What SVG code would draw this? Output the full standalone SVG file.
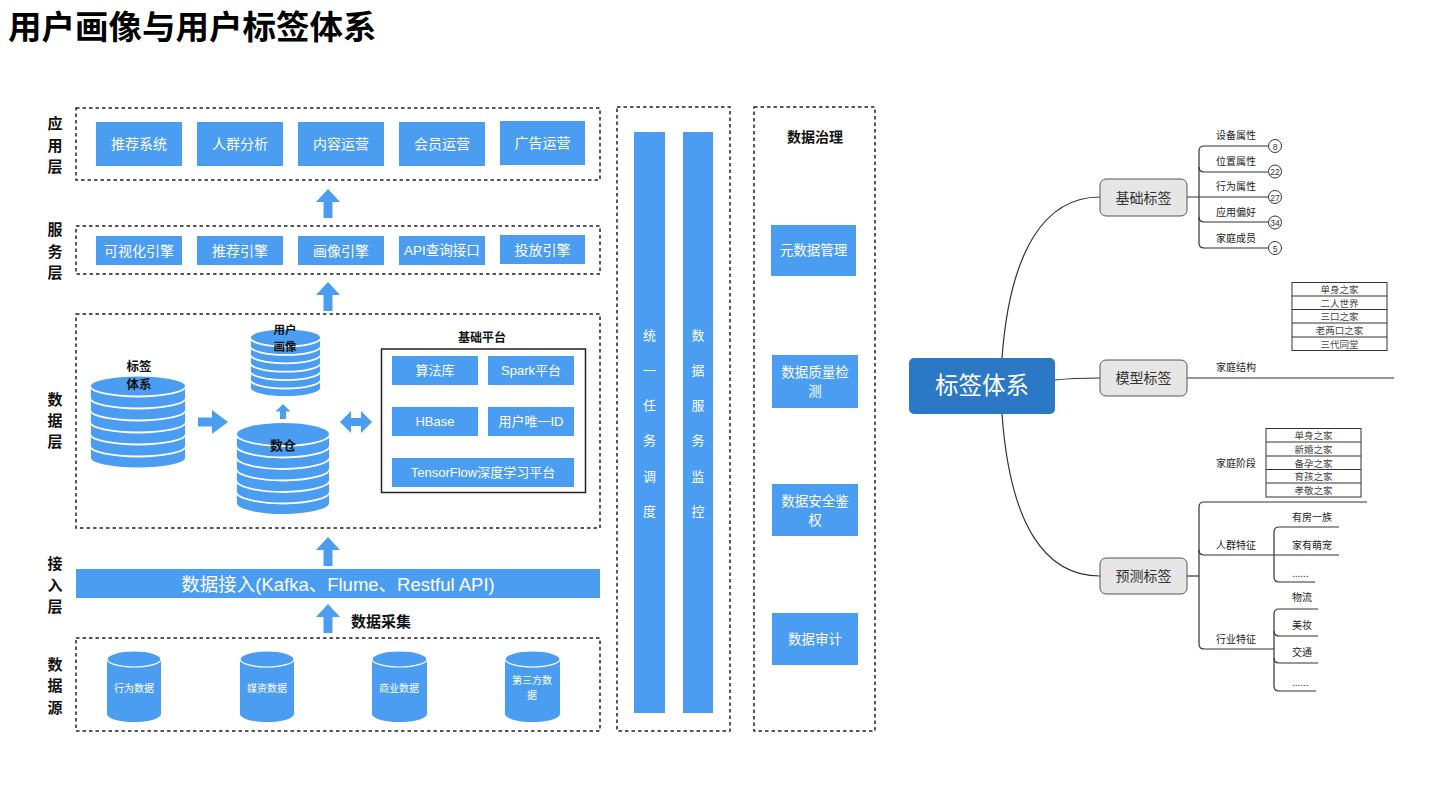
<svg xmlns="http://www.w3.org/2000/svg" width="1440" height="810" viewBox="0 0 1440 810">
<style>
text{font-family:"Liberation Sans","Noto Sans CJK SC",sans-serif;dominant-baseline:central}
.blue{fill:#4A9DF0}
.dash{fill:none;stroke:#222;stroke-width:1.5;stroke-dasharray:3.5 3}
.wt{fill:#fff;font-size:14px;text-anchor:middle}
.lay{fill:#111;font-size:15px;font-weight:bold;text-anchor:middle}
.bold{fill:#111;font-weight:bold;text-anchor:middle}
.disk{fill:#4A9DF0;stroke:#fff;stroke-width:1.8}
.mm{fill:none;stroke:#333;stroke-width:1.2}
.node{fill:#E6E6E6;stroke:#555;stroke-width:1}
.nt{fill:#333;font-size:14px;text-anchor:middle}
.lb{fill:#222;font-size:10px}
.tb{fill:#444;font-size:9.5px;text-anchor:middle}
.cnum{fill:#333;font-size:8.5px;text-anchor:middle}
</style>
<defs>
<path id="up" d="M0,0 L12,13 L4.5,13 L4.5,29 L-4.5,29 L-4.5,13 L-12,13 Z"/>
</defs>

<text x="8" y="27" style="font-size:33.5px;font-weight:bold;fill:#000">用户画像与用户标签体系</text>

<g id="layer-labels">
<text class="lay" x="55" y="123">应</text><text class="lay" x="55" y="145">用</text><text class="lay" x="55" y="166">层</text>
<text class="lay" x="55" y="229">服</text><text class="lay" x="55" y="251">务</text><text class="lay" x="55" y="272">层</text>
<text class="lay" x="55" y="399">数</text><text class="lay" x="55" y="420">据</text><text class="lay" x="55" y="441">层</text>
<text class="lay" x="55" y="563">接</text><text class="lay" x="55" y="585">入</text><text class="lay" x="55" y="606">层</text>
<text class="lay" x="55" y="664">数</text><text class="lay" x="55" y="685">据</text><text class="lay" x="55" y="707">源</text>
</g>

<g id="app-layer">
<rect class="dash" x="76" y="108" width="524" height="72"/>
<rect class="blue" x="96" y="122" width="86" height="44"/><text class="wt" x="139" y="144">推荐系统</text>
<rect class="blue" x="197" y="122" width="86" height="44"/><text class="wt" x="240" y="144">人群分析</text>
<rect class="blue" x="298" y="122" width="86" height="44"/><text class="wt" x="341" y="144">内容运营</text>
<rect class="blue" x="399" y="122" width="86" height="44"/><text class="wt" x="442" y="144">会员运营</text>
<rect class="blue" x="500" y="121" width="85" height="44"/><text class="wt" x="542.5" y="143">广告运营</text>
</g>

<g id="service-layer">
<rect class="dash" x="76" y="226" width="524" height="48"/>
<rect class="blue" x="96" y="236" width="86" height="29"/><text class="wt" x="139" y="250.5">可视化引擎</text>
<rect class="blue" x="197" y="236" width="86" height="29"/><text class="wt" x="240" y="250.5">推荐引擎</text>
<rect class="blue" x="298" y="236" width="86" height="29"/><text class="wt" x="341" y="250.5">画像引擎</text>
<rect class="blue" x="399" y="236" width="86" height="29"/><text class="wt" x="442" y="250.5" style="font-size:13.5px">API查询接口</text>
<rect class="blue" x="500" y="235" width="85" height="29"/><text class="wt" x="542.5" y="249.5">投放引擎</text>
</g>

<g id="data-layer">
<rect class="dash" x="76" y="314" width="524" height="214"/>
<g id="tag-stack">
<path class="disk" d="M90,446 A48,10.5 0 0 1 186,446 V458 A48,10.5 0 0 1 90,458 Z"/>
<path class="disk" d="M90,434 A48,10.5 0 0 1 186,434 V446 A48,10.5 0 0 1 90,446 Z"/>
<path class="disk" d="M90,422 A48,10.5 0 0 1 186,422 V434 A48,10.5 0 0 1 90,434 Z"/>
<path class="disk" d="M90,410 A48,10.5 0 0 1 186,410 V422 A48,10.5 0 0 1 90,422 Z"/>
<path class="disk" d="M90,398 A48,10.5 0 0 1 186,398 V410 A48,10.5 0 0 1 90,410 Z"/>
<path class="disk" d="M90,386 A48,10.5 0 0 1 186,386 V398 A48,10.5 0 0 1 90,398 Z"/>
<ellipse class="disk" cx="138" cy="386" rx="48" ry="10.5"/>
<text class="bold" x="139" y="367" style="font-size:12.5px">标签</text>
<text class="bold" x="139" y="385" style="font-size:12.5px">体系</text>
</g>
<g id="profile-stack">
<path class="disk" d="M250,379.5 A35.5,9 0 0 1 321,379.5 V387.9 A35.5,9 0 0 1 250,387.9 Z"/>
<path class="disk" d="M250,371.1 A35.5,9 0 0 1 321,371.1 V379.5 A35.5,9 0 0 1 250,379.5 Z"/>
<path class="disk" d="M250,362.7 A35.5,9 0 0 1 321,362.7 V371.1 A35.5,9 0 0 1 250,371.1 Z"/>
<path class="disk" d="M250,354.3 A35.5,9 0 0 1 321,354.3 V362.7 A35.5,9 0 0 1 250,362.7 Z"/>
<path class="disk" d="M250,345.9 A35.5,9 0 0 1 321,345.9 V354.3 A35.5,9 0 0 1 250,354.3 Z"/>
<path class="disk" d="M250,337.5 A35.5,9 0 0 1 321,337.5 V345.9 A35.5,9 0 0 1 250,345.9 Z"/>
<ellipse class="disk" cx="285.5" cy="337.5" rx="35.5" ry="9"/>
<text class="bold" x="285" y="330" style="font-size:11.5px">用户</text>
<text class="bold" x="285" y="347" style="font-size:11.5px">画像</text>
</g>
<g id="dw-stack">
<path class="disk" d="M236,491.5 A47,12 0 0 1 330,491.5 V503 A47,12 0 0 1 236,503 Z"/>
<path class="disk" d="M236,480 A47,12 0 0 1 330,480 V491.5 A47,12 0 0 1 236,491.5 Z"/>
<path class="disk" d="M236,468.5 A47,12 0 0 1 330,468.5 V480 A47,12 0 0 1 236,480 Z"/>
<path class="disk" d="M236,457 A47,12 0 0 1 330,457 V468.5 A47,12 0 0 1 236,468.5 Z"/>
<path class="disk" d="M236,445.5 A47,12 0 0 1 330,445.5 V457 A47,12 0 0 1 236,457 Z"/>
<path class="disk" d="M236,434 A47,12 0 0 1 330,434 V445.5 A47,12 0 0 1 236,445.5 Z"/>
<ellipse class="disk" cx="283" cy="434" rx="47" ry="12"/>
<text class="bold" x="283" y="445" style="font-size:13px">数仓</text>
</g>
<g id="base-platform">
<text class="bold" x="482" y="338" style="font-size:12px">基础平台</text>
<rect x="381.5" y="349" width="204" height="143.5" fill="none" stroke="#222" stroke-width="1.5"/>
<rect class="blue" x="392" y="356" width="86" height="29"/><text class="wt" x="435" y="370.5" style="font-size:13px">算法库</text>
<rect class="blue" x="488" y="356" width="86" height="29"/><text class="wt" x="531" y="370.5" style="font-size:13px">Spark平台</text>
<rect class="blue" x="392" y="407" width="86" height="29"/><text class="wt" x="435" y="421.5" style="font-size:13px">HBase</text>
<rect class="blue" x="488" y="407" width="86" height="29"/><text class="wt" x="531" y="421.5" style="font-size:13px">用户唯一ID</text>
<rect class="blue" x="392" y="458" width="182" height="29"/><text class="wt" x="483" y="472.5" style="font-size:13px">TensorFlow深度学习平台</text>
</g>
</g>

<g id="access-layer">
<rect class="blue" x="76" y="569" width="524" height="29"/>
<text class="wt" x="338" y="584" style="font-size:18.5px">数据接入(Kafka、Flume、Restful API)</text>
<text class="bold" x="381" y="621" style="font-size:15px">数据采集</text>
</g>

<g id="source-layer">
<rect class="dash" x="76" y="638" width="524" height="93"/>
<g id="src1"><path class="blue" d="M107,659 A27,8 0 0 1 161,659 V714 A27,8 0 0 1 107,714 Z"/><ellipse cx="134" cy="659" rx="27" ry="8" fill="#4A9DF0" stroke="#fff" stroke-width="1.2"/><text class="wt" x="134" y="688" style="font-size:10px">行为数据</text></g>
<g id="src2"><path class="blue" d="M240,659 A27,8 0 0 1 294,659 V714 A27,8 0 0 1 240,714 Z"/><ellipse cx="267" cy="659" rx="27" ry="8" fill="#4A9DF0" stroke="#fff" stroke-width="1.2"/><text class="wt" x="267" y="688" style="font-size:10px">媒资数据</text></g>
<g id="src3"><path class="blue" d="M372,659 A27.5,8 0 0 1 427,659 V714 A27.5,8 0 0 1 372,714 Z"/><ellipse cx="399.5" cy="659" rx="27.5" ry="8" fill="#4A9DF0" stroke="#fff" stroke-width="1.2"/><text class="wt" x="399" y="688" style="font-size:10px">商业数据</text></g>
<g id="src4"><path class="blue" d="M505,659 A27.5,8 0 0 1 560,659 V714 A27.5,8 0 0 1 505,714 Z"/><ellipse cx="532.5" cy="659" rx="27.5" ry="8" fill="#4A9DF0" stroke="#fff" stroke-width="1.2"/><text class="wt" x="532" y="680" style="font-size:10px">第三方数</text><text class="wt" x="532" y="695" style="font-size:10px">据</text></g>
</g>

<g id="connectors">
<use href="#up" x="328" y="189" fill="#4A9DF0"/>
<use href="#up" x="328" y="282" fill="#4A9DF0"/>
<use href="#up" x="328" y="537" fill="#4A9DF0"/>
<use href="#up" x="328" y="604" fill="#4A9DF0"/>
<path class="blue" d="M198,417.5 H212 V410 L228,422 L212,434 V426.5 H198 Z"/>
<path class="blue" d="M283,404 L290.5,411.5 L286,411.5 L286,419 L280,419 L280,411.5 L275.5,411.5 Z"/>
<path class="blue" d="M340,422 L351,411 V418 H361 V411 L372,422 L361,433 V426 H351 V433 Z"/>
</g>

<g id="ops-column">
<rect class="dash" x="617" y="107" width="113" height="624"/>
<rect class="blue" x="634" y="132" width="31" height="581"/>
<rect class="blue" x="683" y="132" width="30" height="581"/>
<text class="wt" x="649.5" y="335" style="font-size:13px">统</text><text class="wt" x="649.5" y="370" style="font-size:13px">一</text><text class="wt" x="649.5" y="405" style="font-size:13px">任</text><text class="wt" x="649.5" y="440" style="font-size:13px">务</text><text class="wt" x="649.5" y="476" style="font-size:13px">调</text><text class="wt" x="649.5" y="511" style="font-size:13px">度</text>
<text class="wt" x="698" y="335" style="font-size:13px">数</text><text class="wt" x="698" y="370" style="font-size:13px">据</text><text class="wt" x="698" y="405" style="font-size:13px">服</text><text class="wt" x="698" y="440" style="font-size:13px">务</text><text class="wt" x="698" y="476" style="font-size:13px">监</text><text class="wt" x="698" y="511" style="font-size:13px">控</text>
</g>

<g id="governance">
<rect class="dash" x="754" y="107" width="121" height="624"/>
<text class="bold" x="815" y="137" style="font-size:14px">数据治理</text>
<rect class="blue" x="771" y="225" width="85" height="51"/><text class="wt" x="813.5" y="250.5" style="font-size:13.5px">元数据管理</text>
<rect class="blue" x="772" y="355" width="86" height="53"/><text class="wt" x="815" y="372" style="font-size:13.5px">数据质量检</text><text class="wt" x="815" y="391" style="font-size:13.5px">测</text>
<rect class="blue" x="772" y="484" width="86" height="52"/><text class="wt" x="815" y="501" style="font-size:13.5px">数据安全鉴</text><text class="wt" x="815" y="520" style="font-size:13.5px">权</text>
<rect class="blue" x="772" y="613" width="86" height="52"/><text class="wt" x="815" y="639" style="font-size:13.5px">数据审计</text>
</g>

<g id="mindmap-connectors">
<path class="mm" d="M1002,358 C1010,250 1045,197 1100,197"/>
<path class="mm" d="M1002,414 C1010,525 1045,576 1100,576"/>
<path class="mm" d="M1055,380 C1072,378 1085,378 1100,378"/>
<path class="mm" d="M1187,197 H1268.5"/>
<path class="mm" d="M1268.5,146 H1204 Q1199,146 1199,151 V243 Q1199,248 1204,248 H1268.5"/>
<path class="mm" d="M1199,167 Q1199,172 1204,172 H1268.5"/>
<path class="mm" d="M1199,217 Q1199,222 1204,222 H1268.5"/>
<path class="mm" d="M1187,378 H1394"/>
<path class="mm" d="M1187,576 H1199"/>
<path class="mm" d="M1367,502 H1204 Q1199,502 1199,507 V644 Q1199,649 1204,649 H1274"/>
<path class="mm" d="M1199,550 Q1199,555 1204,555 H1339"/>
<path class="mm" d="M1339,527 H1279 Q1274,527 1274,532 V577 Q1274,582 1279,582 H1315"/>
<path class="mm" d="M1318,609 H1279 Q1274,609 1274,614 V686 Q1274,691 1279,691 H1316"/>
<path class="mm" d="M1274,631 Q1274,636 1279,636 H1318"/>
<path class="mm" d="M1274,658 Q1274,663 1279,663 H1318"/>
</g>

<g id="node-root">
<rect x="909" y="358" width="146" height="56" rx="5" fill="#2B78C5"/>
<text x="982" y="386" style="fill:#fff;font-size:23.5px;text-anchor:middle">标签体系</text>
</g>
<g id="node-basic">
<rect class="node" x="1100" y="179" width="87" height="37" rx="6"/>
<text class="nt" x="1143.5" y="197.5">基础标签</text>
<text class="lb" x="1216" y="135">设备属性</text>
<text class="lb" x="1216" y="161">位置属性</text>
<text class="lb" x="1216" y="186">行为属性</text>
<text class="lb" x="1216" y="212">应用偏好</text>
<text class="lb" x="1216" y="238">家庭成员</text>
<circle cx="1275" cy="146" r="6.5" fill="#fff" stroke="#333"/><text class="cnum" x="1275" y="146.5">8</text>
<circle cx="1275" cy="171.5" r="6.5" fill="#fff" stroke="#333"/><text class="cnum" x="1275" y="172">22</text>
<circle cx="1275" cy="197" r="6.5" fill="#fff" stroke="#333"/><text class="cnum" x="1275" y="197.5">27</text>
<circle cx="1275" cy="222.5" r="6.5" fill="#fff" stroke="#333"/><text class="cnum" x="1275" y="223">34</text>
<circle cx="1275" cy="248" r="6.5" fill="#fff" stroke="#333"/><text class="cnum" x="1275" y="248.5">5</text>
</g>
<g id="node-model">
<rect class="node" x="1100" y="360" width="87" height="36" rx="6"/>
<text class="nt" x="1143.5" y="378">模型标签</text>
<text class="lb" x="1216" y="367">家庭结构</text>
<g fill="none" stroke="#333" stroke-width="1">
<rect x="1292" y="282.5" width="95" height="68"/>
<path d="M1292,296 H1387 M1292,309.5 H1387 M1292,323 H1387 M1292,337 H1387"/>
</g>
<text class="tb" x="1339.5" y="289.5">单身之家</text>
<text class="tb" x="1339.5" y="303">二人世界</text>
<text class="tb" x="1339.5" y="316.5">三口之家</text>
<text class="tb" x="1339.5" y="330">老两口之家</text>
<text class="tb" x="1339.5" y="344">三代同堂</text>
</g>
<g id="node-predict">
<rect class="node" x="1100" y="558" width="87" height="36" rx="6"/>
<text class="nt" x="1143.5" y="576">预测标签</text>
<text class="lb" x="1216" y="463">家庭阶段</text>
<g fill="none" stroke="#333" stroke-width="1">
<rect x="1266" y="428.5" width="95" height="68.5"/>
<path d="M1266,442 H1361 M1266,456 H1361 M1266,469.5 H1361 M1266,483 H1361"/>
</g>
<text class="tb" x="1313.5" y="435.5">单身之家</text>
<text class="tb" x="1313.5" y="449">新婚之家</text>
<text class="tb" x="1313.5" y="463">备孕之家</text>
<text class="tb" x="1313.5" y="476.5">育孩之家</text>
<text class="tb" x="1313.5" y="490">孝敬之家</text>
<text class="lb" x="1216" y="545">人群特征</text>
<text class="lb" x="1292" y="517">有房一族</text>
<text class="lb" x="1292" y="545">家有萌宠</text>
<text class="lb" x="1292" y="573">......</text>
<text class="lb" x="1216" y="639">行业特征</text>
<text class="lb" x="1292" y="597">物流</text>
<text class="lb" x="1292" y="625">美妆</text>
<text class="lb" x="1292" y="652">交通</text>
<text class="lb" x="1292" y="682">......</text>
</g>
</svg>
